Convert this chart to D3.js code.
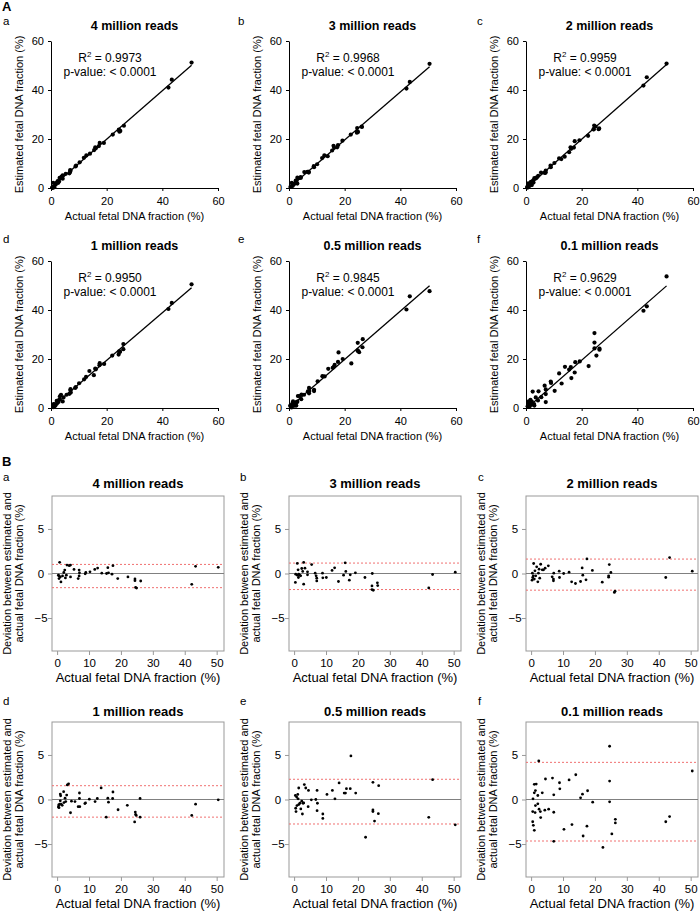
<!DOCTYPE html>
<html><head><meta charset="utf-8">
<script src="https://cdn.jsdelivr.net/npm/d3@7"></script>
<style>body{margin:0;background:#fff} text{font-family:"Liberation Sans",Arial,sans-serif;fill:#000}</style>
</head><body><svg id="chart" width="700" height="911"></svg>
<script>
const panelTitles = ["4 million reads","3 million reads","2 million reads","1 million reads","0.5 million reads","0.1 million reads"];
const panelLetters = ["a","b","c","d","e","f"];
const rSquaredValues = ["0.9973","0.9968","0.9959","0.9950","0.9845","0.9629"];
const pValueLabel = "p-value: < 0.0001";
const scatterTicks = [0,20,40,60];
const devXTicks = [0,10,20,30,40,50];
const devYTicks = [-5,0,5];
const xLabel = "Actual fetal DNA fraction (%)";
const yLabelA = "Estimated fetal DNA fraction (%)";
const yLabelB = ["Deviation between estimated and","actual fetal DNA fraction (%)"];

const actual4M = [0.8,0.6,0.4,0.6,1.0,1.2,1.7,2.1,2.4,2.6,2.9,3.1,3.8,4.2,4.2,5.3,6.6,6.9,6.9,7.0,8.8,9.0,10.3,11.8,12.7,14.0,15.5,15.9,16.1,17.2,17.5,19.0,22.2,24.4,24.4,24.6,24.9,26.2,42.2,43.4,50.5];
const deviation4M = [1.26,-0.57,-0.19,-0.27,-0.38,-0.95,-0.27,0.11,0.38,-0.5,-0.19,0.95,0.88,0.95,-0.38,0.46,-0.57,0.38,-0.27,0.08,-0.04,0.11,0.19,0.46,0.61,0.04,0.0,0.65,0.08,-0.08,0.88,-0.57,-0.38,-0.61,-0.8,-1.56,-1.64,-0.84,-1.22,0.8,0.69];
const estimated4M = [2.1,0.0,0.2,0.3,0.6,0.3,1.4,2.2,2.8,2.1,2.7,4.1,4.7,5.2,3.8,5.8,6.0,7.3,6.6,7.1,8.8,9.1,10.5,12.3,13.3,14.0,15.5,16.6,16.2,17.1,18.4,18.4,21.8,23.8,23.6,23.0,23.3,25.4,41.0,44.2,51.2];

const actual3M = [0.4,0.5,1.0,1.0,1.35,1.25,1.45,1.75,2.05,2.4,2.7,3.0,3.0,3.4,4.2,4.2,5.5,6.6,6.9,7.1,7.1,8.9,9.0,10.1,11.9,12.7,13.9,15.5,16.0,16.2,17.3,17.6,19.2,22.2,24.5,24.4,24.4,24.8,26.1,26.2,42.2,43.4,50.5];
const deviation3M = [-1.0,-0.08,1.13,-0.19,-0.45,0.41,-0.08,-0.19,-0.26,0.56,0.23,-1.2,1.24,0.6,0.19,-0.15,1.0,0.04,-0.26,-0.53,-0.83,0.04,-0.49,-0.45,0.34,0.64,-0.9,-0.19,1.2,0.23,-0.75,-0.15,0.08,-0.45,0.0,-1.39,-1.8,-1.88,-1.05,-1.35,-1.62,-0.11,0.15];
const estimated3M = [-0.6,0.4,2.1,0.8,0.9,1.7,1.4,1.6,1.8,3.0,2.9,1.8,4.2,4.0,4.4,4.1,6.5,6.6,6.6,6.6,6.3,8.9,8.5,9.7,12.2,13.3,13.0,15.3,17.2,16.4,16.6,17.5,19.3,21.8,24.5,23.0,22.6,22.9,25.1,24.9,40.6,43.3,50.7];

const actual2M = [0.3,0.4,0.5,0.7,0.8,1.0,1.2,1.45,1.75,2.1,2.3,2.5,2.7,3.0,3.5,3.9,4.4,5.4,6.6,7.0,7.1,7.0,8.8,8.9,10.2,11.9,12.7,13.9,15.5,16.0,16.2,17.2,17.5,19.2,22.3,24.3,24.3,24.5,25.0,26.1,26.3,42.2,43.4,50.5];
const deviation2M = [-0.75,0.04,-0.45,-0.26,1.12,-0.63,0.3,-0.26,0.75,-0.93,0.04,0.49,-0.52,1.04,0.41,0.41,0.6,0.86,-0.37,-0.82,0.04,-0.63,0.26,-0.45,0.0,0.15,-0.93,-1.12,-0.9,0.63,-0.19,-0.71,1.64,0.34,-0.97,-0.26,-0.41,1.0,0.11,-2.13,-1.98,-0.45,1.79,0.26];
const estimated2M = [-0.5,0.4,0.1,0.4,1.9,0.4,1.5,1.2,2.5,1.2,2.3,3.0,2.2,4.0,3.9,4.3,5.0,6.3,6.2,6.2,7.1,6.4,9.1,8.5,10.2,12.1,11.8,12.8,14.6,16.6,16.0,16.5,19.1,19.5,21.3,24.0,23.9,25.5,25.1,24.0,24.3,41.8,45.2,50.8];

const actual1M = [0.4,0.5,0.6,0.8,1.0,1.1,1.0,1.3,1.6,2.05,2.15,2.5,2.7,3.0,3.2,3.6,4.2,4.5,5.6,6.6,7.1,7.0,7.0,8.7,8.9,10.1,11.9,12.6,13.8,15.4,15.9,16.1,17.4,17.5,19.1,22.0,24.3,24.5,24.6,24.8,26.0,26.0,42.2,43.4,50.5];
const deviation1M = [-0.84,-0.61,-0.92,-0.53,0.61,0.42,-0.15,-0.53,-0.65,0.88,-0.34,0.15,-0.23,0.5,1.64,1.76,-1.49,-0.19,-0.23,-0.8,-0.8,0.73,0.11,-0.46,-0.38,0.04,-0.23,0.11,1.3,-1.98,0.15,-0.3,0.11,0.84,-1.15,-0.65,-2.52,-1.41,-1.68,-1.79,0.11,-1.98,-1.79,-0.53,-0.04];
const estimated1M = [-0.4,-0.1,-0.3,0.3,1.6,1.5,0.9,0.8,1.0,2.9,1.8,2.7,2.5,3.5,4.8,5.4,2.7,4.3,5.4,5.8,6.3,7.7,7.1,8.2,8.5,10.1,11.7,12.7,15.1,13.4,16.1,15.8,17.5,18.3,18.0,21.4,21.8,23.1,22.9,23.0,26.1,24.0,40.4,42.9,50.5];

const actual05M = [0.4,0.5,0.6,0.8,0.9,1.15,1.25,1.45,1.45,1.8,2.1,2.4,2.6,2.8,3.0,3.2,3.65,4.5,4.4,5.4,6.8,7.2,7.3,7.2,9.0,9.0,10.3,12.0,12.8,14.1,15.7,16.1,16.4,17.6,17.8,19.3,22.4,24.7,24.7,24.7,25.2,26.5,26.4,42.2,43.4,50.5];
const deviation05M = [0.45,-0.98,-1.36,0.27,-0.68,0.57,0.08,1.29,-0.57,-0.42,-1.06,-0.19,-1.63,-0.42,-0.38,1.67,1.29,1.02,-0.8,-0.04,0.0,1.02,-0.42,-1.25,-1.63,-2.12,0.57,1.02,0.08,1.86,0.72,0.72,1.21,1.21,4.89,0.72,-4.24,1.93,-1.17,-1.36,-2.42,1.55,-1.59,-2.0,2.23,-2.84];
const estimated05M = [0.9,-0.5,-0.8,1.1,0.2,1.7,1.3,2.7,0.9,1.4,1.0,2.2,1.0,2.4,2.6,4.9,4.9,5.5,3.6,5.4,6.8,8.2,6.9,6.0,7.4,6.9,10.9,13.0,12.9,16.0,16.4,16.8,17.6,18.8,22.7,20.0,18.2,26.6,23.5,23.3,22.8,28.1,24.8,40.2,45.6,47.7];

const actual01M = [0.6,1.0,1.6,1.35,1.0,0.5,1.25,0.5,0.7,1.0,1.35,2.4,2.1,3.5,4.5,2.1,2.5,2.9,3.0,4.3,5.5,6.7,7.1,7.1,7.1,8.9,9.0,10.3,11.9,12.8,14.0,15.5,16.1,16.3,17.5,17.7,19.3,22.5,24.6,24.6,24.6,25.3,26.4,26.4,42.2,43.4,50.5];
const deviation01M = [0.08,1.7,1.73,1.0,0.75,-1.35,-1.47,-2.5,-2.9,-3.46,-0.68,4.32,0.45,0.75,2.3,-0.49,-1.09,-1.35,-2.03,-1.2,-1.09,2.4,0.53,-1.43,-4.7,1.88,1.2,-3.35,2.2,-2.82,2.78,0.19,0.6,-4.1,-3.0,0.98,-0.3,-5.38,5.98,2.07,-0.26,-3.87,-2.22,-2.63,-2.5,-1.92,3.2];
const estimated01M = [0.7,2.7,3.3,2.4,1.8,-0.9,-0.2,-2.0,-2.2,-2.5,0.7,6.7,2.6,4.3,6.8,1.6,1.4,1.6,1.0,3.1,4.4,9.1,7.6,5.7,2.4,10.8,10.2,7.0,14.1,10.0,16.8,15.7,16.7,12.2,14.5,18.7,19.0,17.1,30.6,26.7,24.3,21.4,24.2,23.8,39.7,41.5,53.7];

const upperLimits = [1.02,1.17,1.62,1.55,2.27,4.17];
const lowerLimits = [-1.59,-1.80,-1.87,-1.98,-2.75,-4.66];

const datasets = [
  {actual: actual4M, estimated: estimated4M, deviation: deviation4M},
  {actual: actual3M, estimated: estimated3M, deviation: deviation3M},
  {actual: actual2M, estimated: estimated2M, deviation: deviation2M},
  {actual: actual1M, estimated: estimated1M, deviation: deviation1M},
  {actual: actual05M, estimated: estimated05M, deviation: deviation05M},
  {actual: actual01M, estimated: estimated01M, deviation: deviation01M}
];

// layout
const colLeftA = [51, 289, 526], plotWA = 167, rowTopA = [41, 261], plotHA = 147;
const colLeftB = [52, 289, 526], boxWB = 172, rowTopB = [496, 722], boxHB = 155;
const letterXA = [3, 238, 477], letterYA = [24.5, 243];
const letterXB = [3, 240, 478], letterYB = [480.5, 705];
const titleYB = [488, 716];

const svg = d3.select("#chart");
svg.append("text").attr("x", 2).attr("y", 11).attr("font-size", 13).attr("font-weight", "bold").text("A");
svg.append("text").attr("x", 2).attr("y", 466).attr("font-size", 13).attr("font-weight", "bold").text("B");

function fit(xs, ys) {
  const mx = d3.mean(xs), my = d3.mean(ys);
  let sxy = 0, sxx = 0;
  xs.forEach((x, i) => { sxy += (x - mx) * (ys[i] - my); sxx += (x - mx) * (x - mx); });
  const b = sxy / sxx;
  return {a: my - b * mx, b};
}

datasets.forEach((ds, i) => {
  const col = i % 3, row = Math.floor(i / 3);
  // ---------- Panel A ----------
  const left = colLeftA[col], top = rowTopA[row];
  svg.append("text").attr("x", letterXA[col]).attr("y", letterYA[row]).attr("font-size", 11.5).text(panelLetters[i]);
  const g = svg.append("g").attr("transform", `translate(${left},${top})`);
  const x = d3.scaleLinear().domain([0, 60]).range([0, plotWA]);
  const y = d3.scaleLinear().domain([0, 60]).range([plotHA, 0]);
  g.append("text").attr("x", plotWA / 2).attr("y", -11).attr("text-anchor", "middle")
    .attr("font-size", 12.5).attr("font-weight", "bold").text(panelTitles[i]);
  const xa = g.append("g").attr("transform", `translate(0,${plotHA})`)
    .call(d3.axisBottom(x).tickValues(scatterTicks).tickSize(3).tickSizeOuter(0).tickPadding(6));
  const ya = g.append("g").call(d3.axisLeft(y).tickValues(scatterTicks).tickSize(3).tickSizeOuter(0).tickPadding(4));
  [xa, ya].forEach(a => {
    a.selectAll("text").attr("font-size", 11).attr("font-family", null);
    a.attr("font-family", null);
    a.selectAll("path,line").attr("stroke", "#000").attr("stroke-width", 1);
  });
  g.append("text").attr("x", plotWA / 2).attr("y", plotHA + 32).attr("text-anchor", "middle").attr("font-size", 11).text(xLabel);
  g.append("text").attr("transform", `translate(-28,${plotHA / 2}) rotate(-90)`).attr("text-anchor", "middle").attr("font-size", 11).text(yLabelA);
  const pts = ds.actual.map((a, k) => ({a, e: ds.estimated[k], d: ds.deviation[k]}));
  const f = fit(ds.actual, ds.estimated);
  const ext = d3.extent(ds.actual);
  g.append("line").attr("x1", x(ext[0])).attr("y1", y(f.a + f.b * ext[0]))
    .attr("x2", x(ext[1])).attr("y2", y(f.a + f.b * ext[1])).attr("stroke", "#000").attr("stroke-width", 1.3);
  g.selectAll("circle.s").data(pts.filter(p => p.e >= 0)).join("circle").attr("class", "s")
    .attr("cx", p => x(p.a)).attr("cy", p => y(p.e)).attr("r", 2.1).attr("fill", "#000");
  const rt = g.append("text").attr("x", 59).attr("y", 21).attr("text-anchor", "middle").attr("font-size", 12);
  rt.append("tspan").text("R");
  rt.append("tspan").attr("dy", -5).attr("font-size", 8).text("2");
  rt.append("tspan").attr("dy", 5).text(" = " + rSquaredValues[i]);
  g.append("text").attr("x", 59).attr("y", 35).attr("text-anchor", "middle").attr("font-size", 12).text(pValueLabel);

  // ---------- Panel B ----------
  const lb = colLeftB[col], tb = rowTopB[row];
  svg.append("text").attr("x", letterXB[col]).attr("y", letterYB[row]).attr("font-size", 11.5).text(panelLetters[i]);
  const h = svg.append("g").attr("transform", `translate(${lb},${tb})`);
  const xb = d3.scaleLinear().domain([-1.6, 52.3]).range([0, boxWB]);
  const yb = d3.scaleLinear().domain([-8.7, 8.7]).range([boxHB, 0]);
  svg.append("text").attr("x", lb + boxWB / 2).attr("y", titleYB[row]).attr("text-anchor", "middle")
    .attr("font-size", 13).attr("font-weight", "bold").text(panelTitles[i]);
  const xba = h.append("g").attr("transform", `translate(0,${boxHB})`)
    .call(d3.axisBottom(xb).tickValues(devXTicks).tickSize(4).tickSizeOuter(0).tickPadding(4));
  const yba = h.append("g").call(d3.axisLeft(yb).tickValues(devYTicks).tickFormat(d3.format("d")).tickSize(4).tickSizeOuter(0).tickPadding(6));
  [xba, yba].forEach(a => {
    a.attr("font-family", null);
    a.selectAll("text").attr("font-size", 11.5).attr("fill", "#000");
    a.selectAll("path").remove();
    a.selectAll("line").attr("stroke", "#999");
  });
  yba.selectAll("text").attr("text-anchor", "middle").attr("x", -11);
  h.append("rect").attr("x", 0).attr("y", 0).attr("width", boxWB).attr("height", boxHB)
    .attr("fill", "none").attr("stroke", "#999").attr("stroke-width", 1);
  h.append("line").attr("x1", 0).attr("x2", boxWB).attr("y1", yb(0)).attr("y2", yb(0)).attr("stroke", "#808080").attr("stroke-width", 1.2);
  [upperLimits[i], lowerLimits[i]].forEach(v => {
    h.append("line").attr("x1", 0).attr("x2", boxWB).attr("y1", yb(v)).attr("y2", yb(v))
      .attr("stroke", "#f07070").attr("stroke-width", 1).attr("stroke-dasharray", "2,2");
  });
  h.selectAll("circle.d").data(pts).join("circle").attr("class", "d")
    .attr("cx", p => xb(p.a)).attr("cy", p => yb(p.d)).attr("r", 1.4).attr("fill", "#000");
  h.append("text").attr("x", boxWB / 2).attr("y", boxHB + 31).attr("text-anchor", "middle").attr("font-size", 13).text(xLabel);
  const yl = h.append("text").attr("transform", `translate(-41,${boxHB / 2}) rotate(-90)`).attr("text-anchor", "middle").attr("font-size", 11);
  yl.append("tspan").attr("x", 0).attr("dy", 0).text(yLabelB[0]);
  yl.append("tspan").attr("x", 0).attr("dy", 12).text(yLabelB[1]);
});
</script></body></html>
